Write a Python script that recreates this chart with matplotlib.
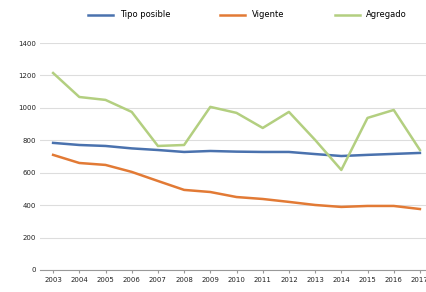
import matplotlib.pyplot as plt

years = ["2003", "2004", "2005", "2006", "2007", "2008", "2009", "2010",
         "2011", "2012", "2013", "2014", "2015", "2016", "2017"]
y_ticks = [0, 200, 400, 600, 800, 1000, 1200, 1400]

# values
tipo_posible = [784, 771, 765, 750, 740, 728, 734, 730, 728, 728, 715, 703, 710, 716, 722]
vigente = [710, 660, 648, 605, 549, 494, 481, 450, 438, 420, 401, 389, 395, 395, 376]
agregado = [1215, 1067, 1049, 975, 765, 771, 1006, 969, 876, 975, 802, 617, 938, 987, 740]

fig = plt.figure(figsize=(4.27, 2.92), dpi=100)
ax = fig.add_axes([40 / 427, 22 / 292, 387 / 427, 227 / 292])

x = range(len(years))
ax.plot(x, tipo_posible, color="#4a72ae", lw=1.8, label="Tipo posible")
ax.plot(x, vigente, color="#e27a35", lw=1.8, label="Vigente")
ax.plot(x, agregado, color="#b3cf80", lw=1.8, label="Agregado")

ax.set_xlim(-0.5, 14.27)
ax.set_ylim(0, 1400)
ax.set_yticks(y_ticks)
ax.set_xticks(list(x))
ax.set_xticklabels(years)
ax.tick_params(axis="both", labelsize=5, colors="#222222", length=0, pad=3)
ax.tick_params(axis="x", length=2, color="#999999")
ax.yaxis.grid(True, color="#dddddd", lw=0.8)
ax.set_axisbelow(True)
for s in ["top", "right", "left"]:
    ax.spines[s].set_visible(False)
ax.spines["bottom"].set_color("#999999")

fig.legend(loc="upper center", bbox_to_anchor=(0.58, 0.99), ncol=3,
           frameon=False, fontsize=6, handlelength=3, columnspacing=6)

plt.savefig("out.png", dpi=100)
